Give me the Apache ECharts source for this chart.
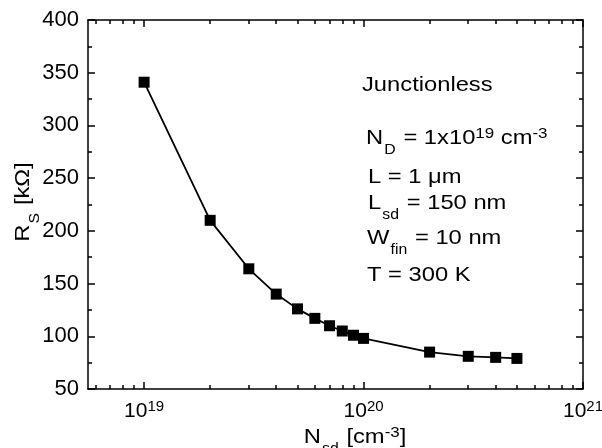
<!DOCTYPE html>
<html>
<head>
<meta charset="utf-8">
<script src="https://cdn.jsdelivr.net/npm/echarts@6/dist/echarts.min.js"></script>
<style>html,body{margin:0;padding:0;background:#fff}#c{width:602px;height:448px}</style>
</head>
<body>
<div id="c"></div>
<script>
// Data
const nsd = [1e19, 2e19, 3e19, 4e19, 5e19, 6e19, 7e19, 8e19, 9e19, 1e20, 2e20, 3e20, 4e20, 5e20];
const rs = [341, 210, 164, 140, 126, 117, 110, 105, 101, 98, 85, 81, 80, 79];
const xMajorTicks = [1e19, 1e20, 1e21];
const xMinorTicks = [6e18, 7e18, 8e18, 9e18, 2e19, 3e19, 4e19, 5e19, 6e19, 7e19, 8e19, 9e19,
  2e20, 3e20, 4e20, 5e20, 6e20, 7e20, 8e20, 9e20];
const yMin = 50, yMax = 400, yStep = 50;
const xMin = 5.55e18, xMax = 1.0002e21;

const FONT = 'Liberation Sans, Arial, sans-serif';
const FS = 21;
const rich = {
  b: { fontSize: FS, fontFamily: FONT, color: '#000', lineHeight: 24, verticalAlign: 'middle' },
  sup: { fontSize: 15, fontFamily: FONT, color: '#000', lineHeight: 15, verticalAlign: 'top', padding: [0, 0, 2, 0] },
  sub: { fontSize: 14, fontFamily: FONT, color: '#000', lineHeight: 12, verticalAlign: 'bottom', padding: [0, 1, -7, 1] }
};

const chart = echarts.init(document.getElementById('c'), null, { renderer: 'canvas' });
const grid = { left: 88, right: 19, top: 20, bottom: 59, containLabel: false, outerBoundsMode: 'none' };
function xAxisDef(pos, ticks, len, labels, line) {
  return {
    type: 'log', logBase: 10, min: xMin, max: xMax, position: pos,
    axisLine: { show: line, onZero: false, lineStyle: { color: '#000', width: 1.5 } },
    axisTick: { show: true, inside: true, length: len, customValues: ticks, lineStyle: { color: '#000', width: 1.5 } },
    axisLabel: labels ? {
      show: true, customValues: xMajorTicks, margin: 10, showMaxLabel: true, showMinLabel: true,
      hideOverlap: false,
      formatter: v => '{b|10}{sup|' + Math.round(Math.log10(v)) + '}', rich: rich
    } : { show: false },
    splitLine: { show: false }, minorTick: { show: false }
  };
}
function yAxisDef(pos, labels) {
  return {
    type: 'value', min: yMin, max: yMax, interval: yStep, position: pos,
    axisLine: { show: true, onZero: false, lineStyle: { color: '#000', width: 1.5 } },
    axisTick: { show: true, inside: true, length: 7, lineStyle: { color: '#000', width: 1.5 } },
    minorTick: { show: true, splitNumber: 2, length: 4, lineStyle: { color: '#000', width: 1.5 } },
    axisLabel: labels ? { show: true, fontSize: 22, fontFamily: FONT, color: '#000', margin: 9 } : { show: false },
    splitLine: { show: false }
  };
}
const SX = 1.13;
const lines = [
  { t: '{b|Junctionless}', x: 362, y: 85 },
  { t: '{b|N}{sub|D}{b| = 1x10}{sup|19}{b| cm}{sup|-3}', x: 366, y: 138 },
  { t: '{b|L = 1 μm}', x: 368, y: 177 },
  { t: '{b|L}{sub|sd}{b| = 150 nm}', x: 368, y: 203 },
  { t: '{b|W}{sub|fin}{b| = 10 nm}', x: 367, y: 238 },
  { t: '{b|T = 300 K}', x: 367, y: 275 }
];
chart.setOption({
  animation: false,
  backgroundColor: '#fff',
  grid: grid,
  xAxis: [
    xAxisDef('bottom', xMajorTicks, 7, true, true),
    xAxisDef('bottom', xMinorTicks, 4, false, false),
    xAxisDef('top', xMajorTicks, 7, false, true),
    xAxisDef('top', xMinorTicks, 4, false, false)
  ],
  yAxis: [yAxisDef('left', true), yAxisDef('right', false)],
  series: [{
    type: 'line', xAxisIndex: 0, yAxisIndex: 0,
    data: nsd.map((x, i) => [x, rs[i]]),
    symbol: 'rect', symbolSize: 11,
    itemStyle: { color: '#000' },
    lineStyle: { color: '#000', width: 1.8 }
  }],
  graphic: lines.map(l => ({
    type: 'text', x: l.x, y: l.y, scaleX: SX,
    style: { text: l.t, rich: rich, fill: '#000', align: 'left', verticalAlign: 'middle' }
  })).concat([
    {
      type: 'text', x: 355, y: 437, scaleX: SX,
      style: { text: '{b|N}{sub|sd}{b| [cm}{sup|-3}{b|]}', rich: rich, align: 'center', verticalAlign: 'middle', fill: '#000' }
    },
    {
      type: 'text', x: 23, y: 202, rotation: Math.PI / 2, scaleX: SX,
      style: { text: '{b|R}{sub|S}{b| [kΩ]}', rich: rich, align: 'center', verticalAlign: 'middle', fill: '#000' }
    }
  ])
});
</script>
</body>
</html>
